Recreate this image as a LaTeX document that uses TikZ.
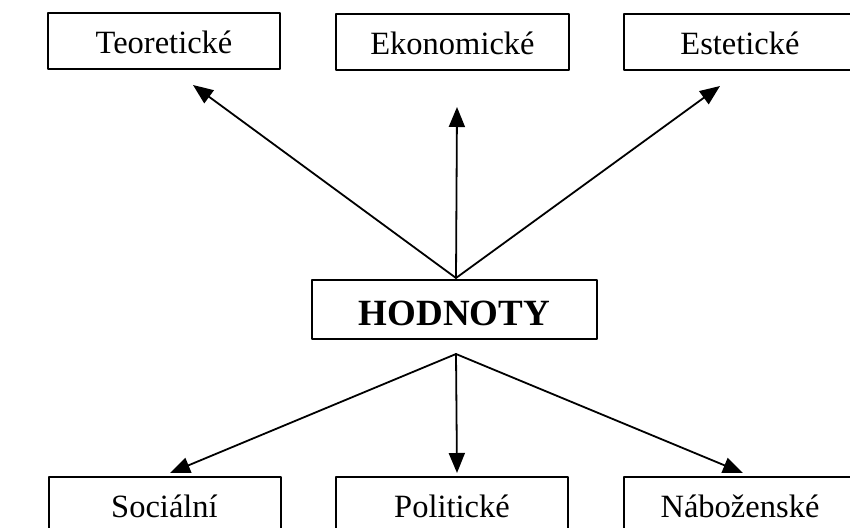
\documentclass[tikz,border=0pt]{standalone}
\usepackage{fontspec}
\setmainfont{Liberation Serif}
\usetikzlibrary{arrows.meta}
\begin{document}
\begin{tikzpicture}[line cap=round, line join=round, >={Triangle[length=20pt,width=16pt]}, x=1pt, y=-1pt]
	\tikzset{box style/.style={draw, line width=2pt, minimum width=232pt, minimum height=56pt, inner sep=0pt, text height=25pt, text depth=0pt, font=\fontsize{32.5}{38}\selectfont},
		main style/.style={draw, line width=2.2pt, minimum width=285pt, minimum height=59pt, inner sep=0pt, text height=32pt, text depth=0pt, font=\fontsize{37}{42}\selectfont\bfseries},
		arrow style/.style={->, line width=1.8pt}}
	\useasboundingbox (0,0) rectangle (850,527);
	\clip (0,0) rectangle (850,527);
	% stred
	\node[main style] (hod) at (454.5,309.5) {HODNOTY};
	\coordinate (hodup) at (456,278);
	\coordinate (hoddown) at (456,354);
	% horni rada
	\node[box style] (teo) at (164,41) {Teoretické};
	\node[box style, minimum width=233pt] (eko) at (452.5,42) {Ekonomické};
	\node[box style] (est) at (740,42) {Estetické};
	% dolni rada
	\node[box style] (soc) at (164.5,505) {Sociální};
	\node[box style] (pol) at (452,505) {Politické};
	\node[box style] (nab) at (740,505) {Náboženské};
	% konce sipek
	\coordinate (teoin) at (193,85);
	\coordinate (ekoin) at (457,107);
	\coordinate (estin) at (720,86);
	\coordinate (socin) at (170,473);
	\coordinate (polin) at (457,473);
	\coordinate (nabin) at (743,473);
	\draw[arrow style] (hodup)--(teoin);
	\draw[arrow style] (hodup)--(ekoin);
	\draw[arrow style] (hodup)--(estin);
	\draw[arrow style] (hoddown)--(socin);
	\draw[arrow style] (hoddown)--(polin);
	\draw[arrow style] (hoddown)--(nabin);
\end{tikzpicture}
\end{document}
